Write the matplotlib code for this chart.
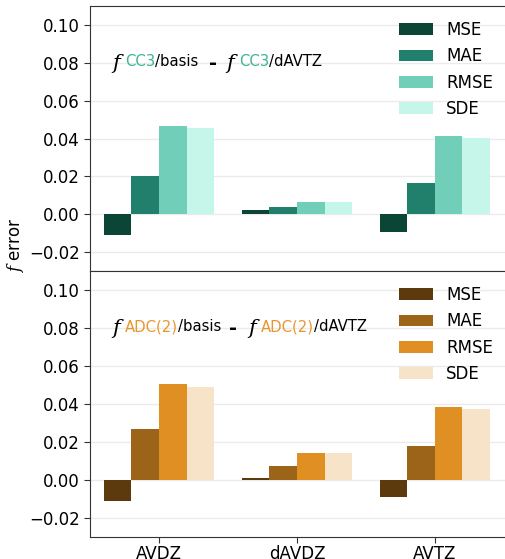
import matplotlib
matplotlib.use("Agg")
import matplotlib.pyplot as plt
import numpy as np

plt.rcParams['mathtext.fontset'] = 'dejavuserif'

categories = ["AVDZ", "dAVDZ", "AVTZ"]
metrics = ["MSE", "MAE", "RMSE", "SDE"]

cc3_mse = [-0.0110, 0.0020, -0.0093]
cc3_mae = [0.0200, 0.0036, 0.0165]
cc3_rmse = [0.0467, 0.0067, 0.0415]
cc3_sde = [0.0455, 0.0063, 0.0405]

adc_mse = [-0.0113, 0.0009, -0.0090]
adc_mae = [0.0266, 0.0072, 0.0180]
adc_rmse = [0.0504, 0.0143, 0.0384]
adc_sde = [0.0492, 0.0143, 0.0374]

cc3_colors = ['#0b4535', '#21806c', '#71cfb9', '#c6f5ea']
adc_colors = ['#5c3a0e', '#9c6418', '#e08f22', '#f6e3c8']
cc3_text = '#3cb396'
adc_text = '#e8962e'

W, H = 505, 559
fig = plt.figure(figsize=(W/100, H/100), dpi=100)
left = 90/W
right = 508/W
ax1 = fig.add_axes([left, 1-271/H, right-left, 265/H])
ax2 = fig.add_axes([left, 1-537/H, right-left, 266/H], sharex=ax1)

x = np.arange(len(categories))
width = 0.2
offsets = [-0.3, -0.1, 0.1, 0.3]

def draw(ax, series, colors):
    for vals, off, col, lab in zip(series, offsets, colors, metrics):
        ax.bar(x + off, vals, width, color=col, label=lab, zorder=3)
    ax.set_ylim(-0.03, 0.11)
    ax.set_yticks([-0.02, 0.0, 0.02, 0.04, 0.06, 0.08, 0.10])
    ax.set_yticklabels(["\u22120.02", "0.00", "0.02", "0.04", "0.06", "0.08", "0.10"])
    ax.grid(axis='y', color='#ebebeb', linewidth=1, zorder=0)
    ax.set_axisbelow(True)
    ax.spines['right'].set_visible(False)
    for s in ['left', 'top', 'bottom']:
        ax.spines[s].set_color('#333333')
    ax.tick_params(axis='both', labelsize=12, colors='#333333', labelcolor='black', length=4)
    ax.legend(loc='upper right', frameon=False, fontsize=12)

draw(ax1, [cc3_mse, cc3_mae, cc3_rmse, cc3_sde], cc3_colors)
draw(ax2, [adc_mse, adc_mae, adc_rmse, adc_sde], adc_colors)
ax1.set_xlim(-0.5, 2.53)
ax2.set_xticks(x)
ax2.set_xticklabels(categories)
ax2.tick_params(axis='x', pad=2)
ax1.tick_params(axis='x', bottom=False, labelbottom=False)

fig.text(15/W, 1-245/H, r"$f$ error", rotation=90, fontsize=12, ha='center', va='center')

def txt(px, py, s, **kw):
    return fig.text(px/W, 1-py/H, s, va='baseline', **kw)

def formula(y, method, col, x0, xdash, x2):
    fig.canvas.draw()
    r = fig.canvas.get_renderer()
    txt(x0, y+3, r"$f$", fontsize=15)
    t = txt(x0+14, y, method, fontsize=10.7, color=col)
    e = t.get_window_extent(r)
    txt(e.x1, y, "/basis", fontsize=10.7)
    txt(xdash, y+3, "-", fontsize=14, fontweight='bold')
    txt(x2, y+3, r"$f$", fontsize=15)
    t2 = txt(x2+14, y, method, fontsize=10.7, color=col)
    e2 = t2.get_window_extent(r)
    txt(e2.x1, y, "/dAVTZ", fontsize=10.7)

formula(66, "CC3", cc3_text, 111, 209, 225)
formula(331, "ADC(2)", adc_text, 111, 229, 247)

fig.savefig("out.png", dpi=100)
